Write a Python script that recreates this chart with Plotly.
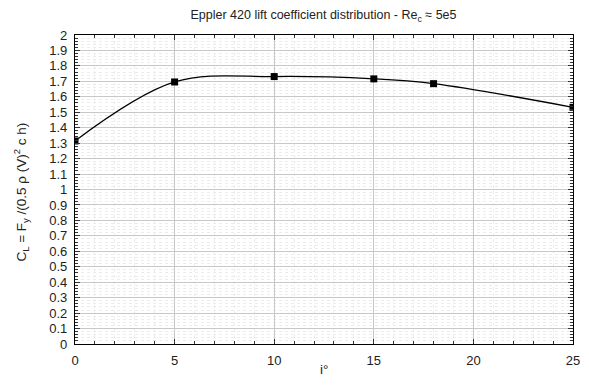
import plotly.graph_objects as go

angle = [0, 5, 10, 15, 18, 25]
cl = [1.314, 1.696, 1.731, 1.716, 1.685, 1.532]

x_ticks = [0, 5, 10, 15, 20, 25]
y_ticks = [round(i * 0.1, 1) for i in range(21)]
y_ticklabels = [f"{v:g}" for v in y_ticks]

FONT = "Liberation Sans, Arial, sans-serif"
OFF = 8  # default page body margin
W, H = 589 - 2 * OFF, 390 - 2 * OFF
# target plot box in page pixels
PX0, PX1, PY0, PY1 = 75, 573, 35, 344
L, R = PX0 - OFF, (OFF + W) - PX1
T, B = PY0 - OFF, (OFF + H) - PY1
pw, ph = W - L - R, H - T - B

fig = go.Figure()
fig.add_trace(go.Scatter(
    x=angle, y=cl, mode="lines+markers",
    line=dict(color="black", width=1.3, shape="spline", smoothing=1.0),
    marker=dict(symbol="square", size=7, color="black"),
    showlegend=False,
))

fig.update_layout(
    width=W, height=H,
    margin=dict(l=L, r=R, t=T, b=B, autoexpand=False),
    paper_bgcolor="white", plot_bgcolor="white",
    font=dict(family=FONT, size=13, color="#222"),
    title=dict(
        text="Eppler 420 lift coefficient distribution - Re<sub>c</sub> ≈ 5e5",
        x=(323.5 - PX0) / pw, xanchor="center", xref="paper",
        y=1 - (15 - OFF) / H, yanchor="middle", yref="container",
        font=dict(size=12.5, family=FONT, color="#222"),
    ),
    annotations=[
        dict(text="C<sub>L</sub> = F<sub>y</sub> /(0.5 ρ (V)<sup>2</sup> c h)",
             xref="paper", yref="paper", x=(21 - PX0) / pw, y=0.49,
             xanchor="center", yanchor="middle", textangle=-90, showarrow=False,
             font=dict(size=13.5, family=FONT, color="#222")),
        dict(text="i°", xref="paper", yref="paper", x=0.5, y=-(369 - PY1) / ph,
             xanchor="center", yanchor="middle", showarrow=False,
             font=dict(size=13.5, family=FONT, color="#222")),
    ],
)

fig.update_xaxes(
    range=[0, 25], tickvals=x_ticks, ticktext=[str(v) for v in x_ticks],
    automargin=False, ticklabelstandoff=4,
    showline=True, linecolor="black", linewidth=1.2, mirror="allticks",
    ticks="inside", ticklen=5, tickcolor="#333", tickwidth=1,
    showgrid=True, gridcolor="#c8c8c8", gridwidth=1,
    zeroline=False,
    minor=dict(dtick=1, tick0=0, showgrid=True, gridcolor="#ececec", griddash="dot",
               ticks="inside", ticklen=3, tickcolor="#333"),
    tickfont=dict(size=13),
)
fig.update_yaxes(
    range=[0, 2], tickvals=y_ticks, ticktext=y_ticklabels,
    automargin=False, ticklabelstandoff=4,
    showline=True, linecolor="black", linewidth=1.2, mirror="allticks",
    ticks="inside", ticklen=5, tickcolor="#333", tickwidth=1,
    showgrid=True, gridcolor="#c8c8c8", gridwidth=1,
    zeroline=False,
    minor=dict(dtick=0.02, tick0=0, showgrid=True, gridcolor="#ececec", griddash="dot",
               ticks="inside", ticklen=3, tickcolor="#333"),
    tickfont=dict(size=13),
)

fig.write_html("out.html")
